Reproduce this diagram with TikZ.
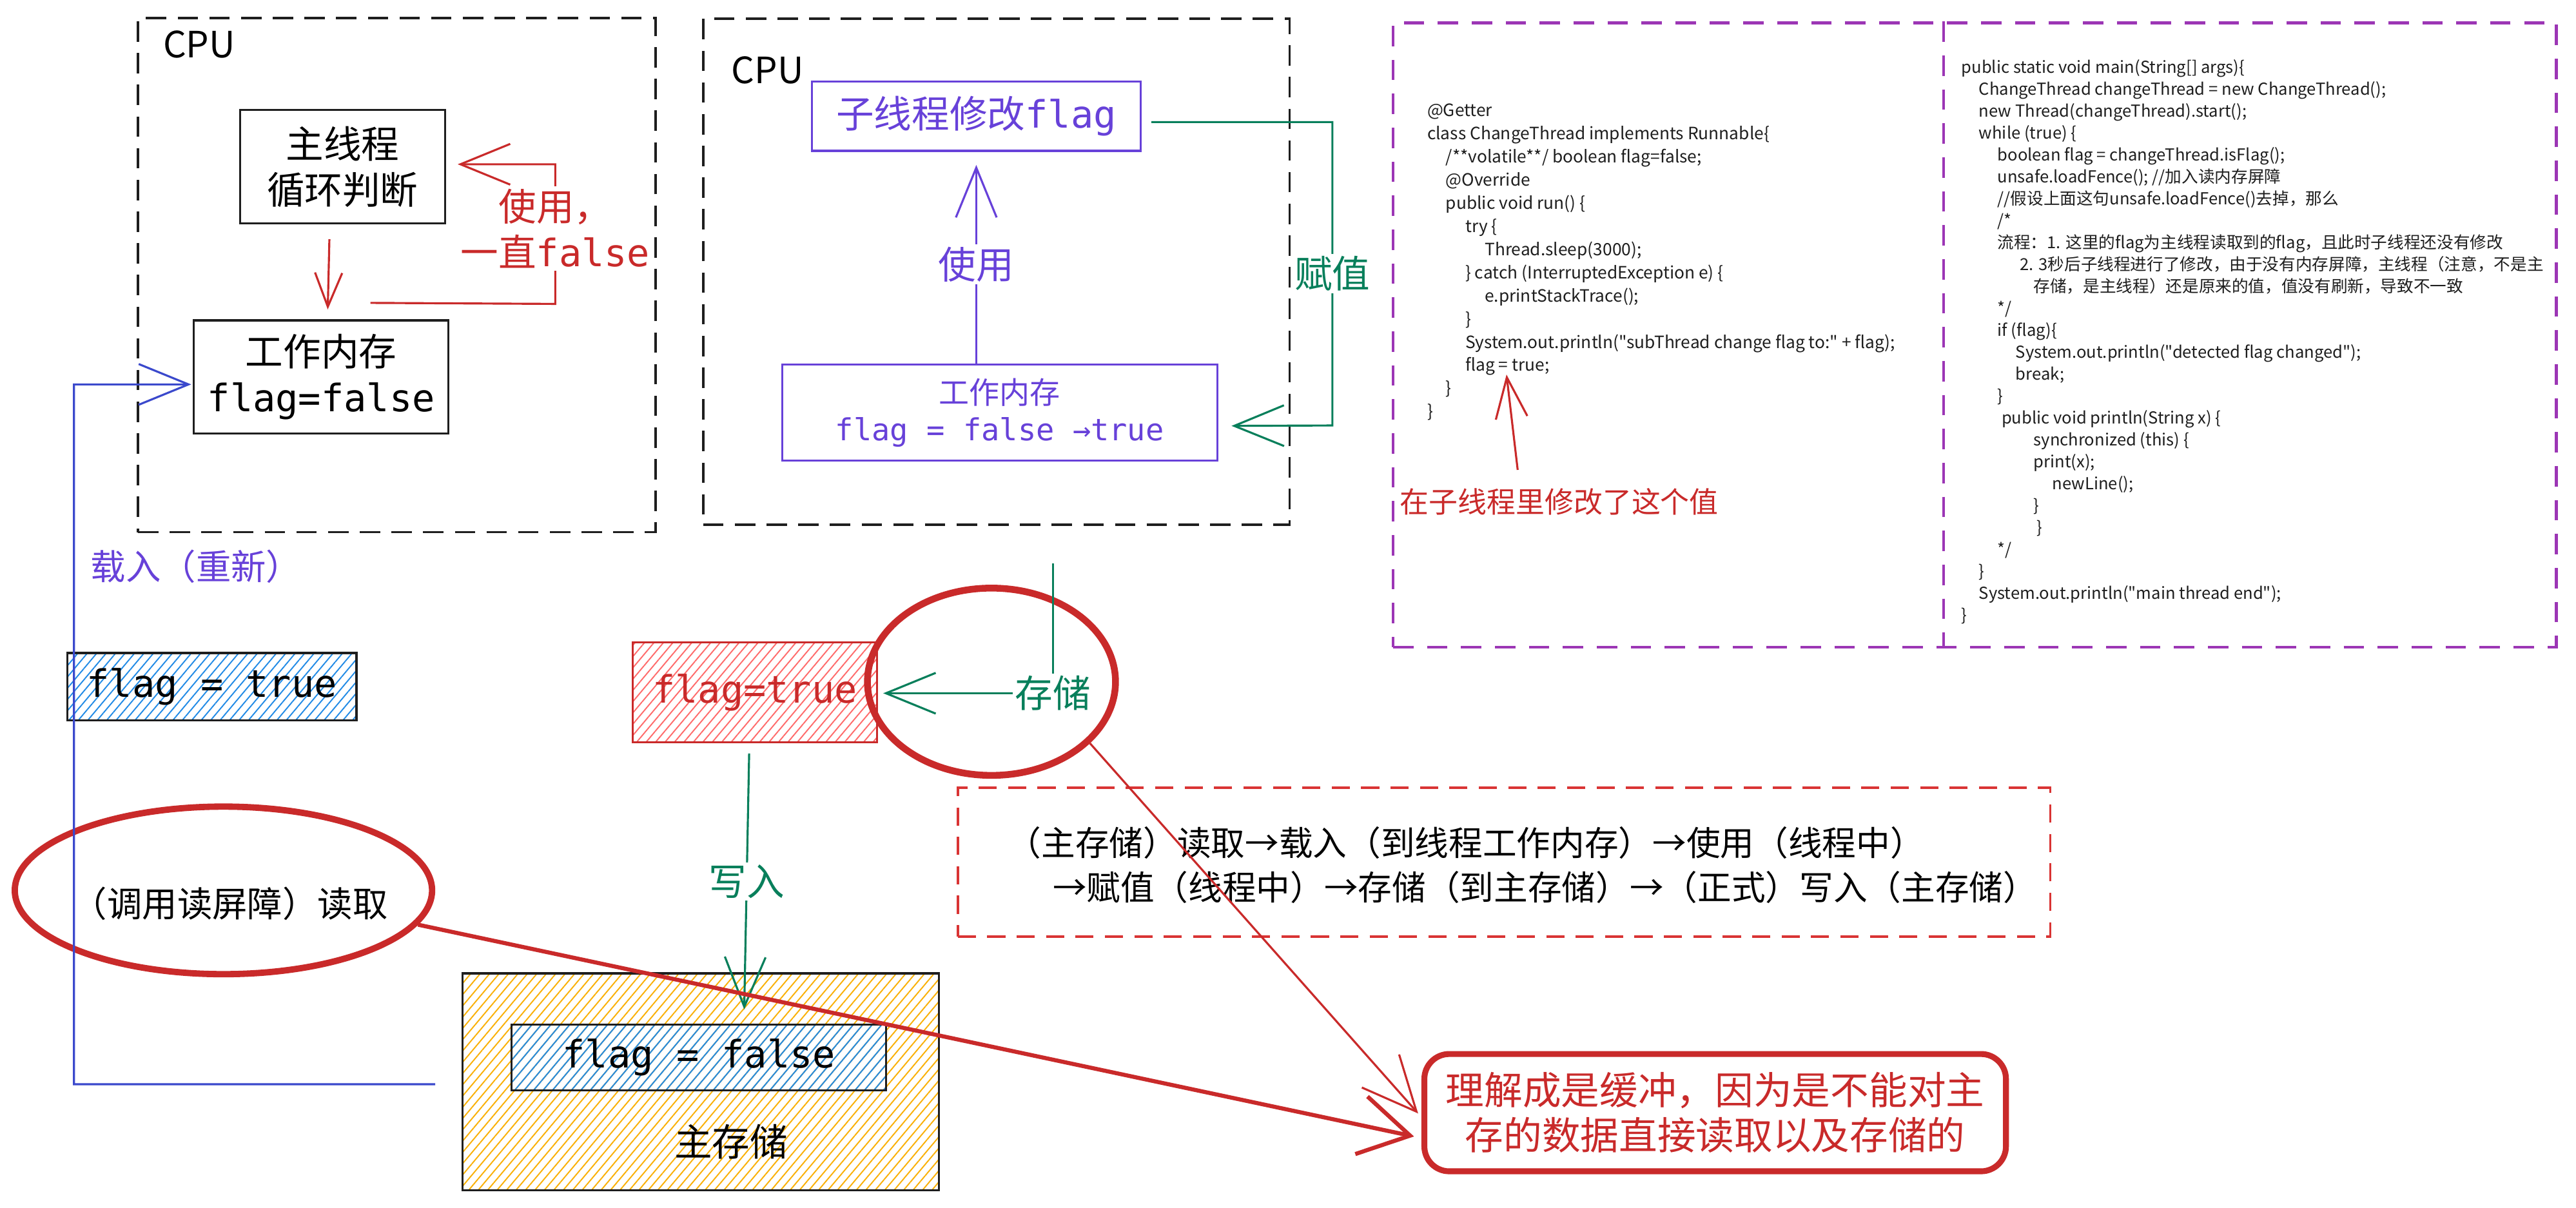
\documentclass[tikz,border=0pt]{standalone}
\usepackage{fontspec}
\setmainfont{Noto Sans CJK SC}
\setmonofont{DejaVu Sans Mono}
\newfontfamily\codefont{Noto Sans CJK SC}[Ligatures=TeXOff]
\usepackage{xcolor}
\usepackage{tikz}
\usetikzlibrary{arrows.meta,positioning,shapes.geometric,patterns.meta}

\newdimen\pxu
\pxu=0.02551cm
\newcommand{\codeInd}[1]{\hspace*{#1\pxu}}

\definecolor{inkBlack}{HTML}{1E1E1E}
\definecolor{inkRed}{HTML}{C92A2A}
\definecolor{hatchRed}{HTML}{FF6B6B}
\definecolor{inkBlue}{HTML}{3B49CC}
\definecolor{hatchBlue}{HTML}{228BE6}
\definecolor{inkViolet}{HTML}{6741D9}
\definecolor{inkGreen}{HTML}{087F5B}
\definecolor{hatchOrange}{HTML}{FAB005}
\definecolor{inkGrape}{HTML}{9C36B5}
\definecolor{flowRed}{HTML}{D93434}

\tikzset{
    cpuFrame/.style={
        draw=inkBlack,
        line width=1pt,
        dash pattern=on 9pt off 5pt,
        inner sep=0pt
    },
    cpuName/.style={
        inner sep=0pt,
        anchor=base west,
        font=\fontsize{16}{19}\selectfont
    },
    sketchBox/.style={
        draw=inkBlack,
        line width=0.9pt,
        align=center,
        inner sep=0pt,
        font=\fontsize{16.7}{20.3}\selectfont
    },
    violetBox/.style={
        sketchBox,
        draw=inkViolet,
        text=inkViolet
    },
    hatchBox/.style={
        sketchBox,
        pattern={Lines[angle=50,distance=3.2pt,line width=0.55pt]}
    },
    ringMark/.style={
        ellipse,
        draw=inkRed,
        line width=3pt,
        inner sep=0pt
    },
    plainText/.style={
        inner sep=0pt,
        align=center,
        font=\fontsize{16.7}{20.3}\selectfont
    },
    codeText/.style={
        inner sep=0pt,
        align=left,
        anchor=north west,
        text=inkBlack,
        font=\codefont\fontsize{7.5}{10.23}\selectfont
    },
    edgeLabel/.style={
        fill=white,
        inner sep=1pt,
        align=center,
        font=\fontsize{16.7}{20.3}\selectfont
    },
    sketchArrow/.style={
        -{Straight Barb[length=22pt,width=18pt]},
        line width=0.9pt
    },
    redArrow/.style={sketchArrow, draw=inkRed},
    blueArrow/.style={sketchArrow, draw=inkBlue},
    violetArrow/.style={sketchArrow, draw=inkViolet},
    greenArrow/.style={sketchArrow, draw=inkGreen}
}

\begin{document}
\begin{tikzpicture}[x=0.02551cm, y=-0.02551cm]
    \useasboundingbox[fill=white] (0,0) rectangle (1568,735.3);

    \node[cpuFrame, minimum width=315*\pxu, minimum height=313*\pxu] (cpuA) at (241.5,167.5) {};
    \node[cpuName] (cpuAName) at (99,35) {CPU};
    \node[sketchBox, minimum width=125*\pxu, minimum height=69*\pxu] (mainLoop) at (208.5,101.5) {主线程\\循环判断};
    \node[sketchBox, minimum width=155*\pxu, minimum height=69*\pxu] (workA) at (195.5,229.5) {工作内存\\\texttt{flag=false}};
    \coordinate (useBend) at (338,185);

    \draw[redArrow, -{Straight Barb[length=15pt,width=12pt]}] ([shift={(-8,9)}]mainLoop.south) -- ([shift={(4,-6)}]workA.north);
    \draw[redArrow] ([shift={(30,-10)}]workA.north) -- (useBend) |- node[pos=0.27, edgeLabel, text=inkRed] {使用，\\一直\texttt{false}} ([shift={(7,-1.5)}]mainLoop.east);

    \node[cpuFrame, minimum width=357*\pxu, minimum height=308*\pxu] (cpuB) at (606.5,165.4) {};
    \node[cpuName] (cpuBName) at (445,51) {CPU};
    \node[violetBox, minimum width=200*\pxu, minimum height=42*\pxu] (subWrite) at (594.25,70.8) {子线程修改\texttt{flag}};
    \node[violetBox, minimum width=265*\pxu, minimum height=58.5*\pxu, font=\fontsize{13.4}{16.4}\selectfont] (workB) at (608.5,251.25) {工作内存\\\texttt{flag = false →true}};
    \coordinate (assignBend) at (811,259);

    \draw[violetArrow] (subWrite.south |- workB.north) -- node[edgeLabel, text=inkViolet] {使用} ([shift={(0,8)}]subWrite.south);
    \draw[greenArrow] ([shift={(6,3.5)}]subWrite.east) -| node[pos=0.75, edgeLabel, text=inkGreen] {赋值} (assignBend) -- ([shift={(8,8)}]workB.east);

    \node[cpuFrame, draw=inkGrape, line width=1.3pt, dash pattern=on 9pt off 6pt, minimum width=708*\pxu, minimum height=380*\pxu] (codeFrame) at (1202,204) {};
    \draw[inkGrape, line width=1.3pt, dash pattern=on 9pt off 6pt] ([shift={(-19,0)}]codeFrame.north) -- ([shift={(-19,0)}]codeFrame.south);
    \node[codeText] (codeLeft) at (868.5,63) {@Getter\\
class ChangeThread implements Runnable\{\\
\codeInd{11.3}/**volatile**/ boolean flag=false;\\
\codeInd{11.3}@Override\\
\codeInd{11.3}public void run() \{\\
\codeInd{23.2}try \{\\
\codeInd{35}Thread.sleep(3000);\\
\codeInd{23.2}\} catch (InterruptedException e) \{\\
\codeInd{35}e.printStackTrace();\\
\codeInd{23.2}\}\\
\codeInd{23.2}System.out.println("subThread change flag to:" + flag);\\
\codeInd{23.2}flag = true;\\
\codeInd{11.3}\}\\
\}};
    \node[codeText, font=\codefont\fontsize{7.3}{9.69}\selectfont] (codeRight) at (1193.6,36) {public static void main(String{[]} args)\{\\
\codeInd{10.7}ChangeThread changeThread = new ChangeThread();\\
\codeInd{10.7}new Thread(changeThread).start();\\
\codeInd{10.7}while (true) \{\\
\codeInd{22}boolean flag = changeThread.isFlag();\\
\codeInd{22}unsafe.loadFence(); //加入读内存屏障\\
\codeInd{22}//假设上面这句unsafe.loadFence()去掉，那么\\
\codeInd{22}/*\\
\codeInd{22}流程：1. 这里的flag为主线程读取到的flag，且此时子线程还没有修改\\
\codeInd{35.7}2. 3秒后子线程进行了修改，由于没有内存屏障，主线程（注意，不是主\\
\codeInd{44}存储，是主线程）还是原来的值，值没有刷新，导致不一致\\
\codeInd{22}*/\\
\codeInd{22}if (flag)\{\\
\codeInd{33.1}System.out.println("detected flag changed");\\
\codeInd{33.1}break;\\
\codeInd{22}\}\\
\codeInd{24.5}public void println(String x) \{\\
\codeInd{44}synchronized (this) \{\\
\codeInd{44}print(x);\\
\codeInd{55.4}newLine();\\
\codeInd{44}\}\\
\codeInd{46}\}\\
\codeInd{22}*/\\
\codeInd{10.7}\}\\
\codeInd{10.7}System.out.println("main thread end");\\
\}};
    \node[plainText, anchor=west, text=inkRed, font=\fontsize{12.8}{15}\selectfont] (note) at (851.8,305.5) {在子线程里修改了这个值};
    \coordinate (eqMark) at (917,228);
    \draw[redArrow, -{Straight Barb[length=18pt,width=14pt]}] ([shift={(72,-11)}]note.north west) -- (eqMark);

    \node[hatchBox, pattern color=hatchBlue, minimum width=176*\pxu, minimum height=41*\pxu] (flagNew) at (129,418) {\ttfamily flag = true};
    \coordinate (loadBend) at (45,234);

    \node[hatchBox, draw=inkRed, text=inkRed, pattern color=hatchRed, minimum width=149*\pxu, minimum height=61*\pxu] (flagDirty) at (459.5,421.5) {\ttfamily flag=true};
    \node[ringMark, minimum width=151*\pxu, minimum height=114*\pxu] (storeRing) at (603.5,415) {};
    \coordinate (storeTop) at (641,343);

    \node[hatchBox, pattern color=hatchOrange, minimum width=290*\pxu, minimum height=132*\pxu] (mainMem) at (426.5,658.5) {};
    \node[hatchBox, pattern color=hatchBlue, minimum width=228*\pxu, minimum height=40*\pxu] (flagFalse) at (425.5,643.6) {\ttfamily flag = false};
    \node[plainText] (mainMemName) at (445,695) {主存储};

    \node[ringMark, line width=2.8pt, minimum width=254*\pxu, minimum height=102*\pxu] (readRing) at (136,542) {};
    \node[plainText, font=\fontsize{15.5}{18}\selectfont] (readText) at ([shift={(4,8)}]readRing.center) {（调用读屏障）读取};

    \node[cpuFrame, draw=flowRed, line width=1.1pt, dash pattern=on 8pt off 5pt, minimum width=665*\pxu, minimum height=90.6*\pxu] (flowBox) at (915.5,524.7) {};
    \node[plainText, anchor=west, align=left, font=\fontsize{15}{19.6}\selectfont] (flowSteps) at (613,526.5) {（主存储）读取→载入（到线程工作内存）→使用（线程中）\\\codeInd{27.5}→赋值（线程中）→存储（到主存储）→（正式）写入（主存储）};

    \node[sketchBox, draw=inkRed, text=inkRed, line width=2.6pt, rounded corners=11pt, minimum width=354*\pxu, minimum height=71.4*\pxu, font=\fontsize{17}{20}\selectfont] (bufferNote) at (1044,677.3) {理解成是缓冲，因为是不能对主\\存的数据直接读取以及存储的};

    \draw[blueArrow] ([shift={(-16,1.5)}]mainMem.west) -| node[pos=0.87, right=7pt, inner sep=0pt, text=inkViolet, font=\fontsize{15.5}{18}\selectfont] {载入（重新）} (loadBend) -- ([shift={(-1,4.5)}]workA.west);
    \draw[greenArrow] (storeTop) |- node[pos=0.5, edgeLabel, text=inkGreen] {存储} ([shift={(3,0.5)}]flagDirty.east);
    \draw[greenArrow] ([shift={(-3.5,6)}]flagDirty.south) -- node[edgeLabel, text=inkGreen] {写入} ([shift={(27.5,-8.5)}]flagFalse.north);
    \draw[redArrow, line width=1.8pt, -{Straight Barb[length=22pt,width=26pt]}] (readRing.-10) -- ([shift={(-4.5,14.5)}]bufferNote.west);
    \draw[redArrow, -{Straight Barb[length=24pt,width=22pt]}] (storeRing.-32) -- ([shift={(-2,0.5)}]bufferNote.west);
\end{tikzpicture}
\end{document}
